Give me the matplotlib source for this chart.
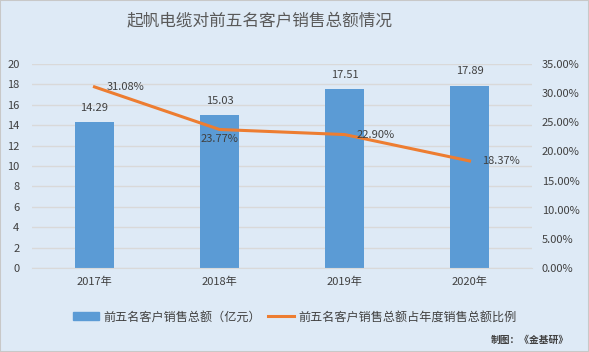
import matplotlib.pyplot as plt
from matplotlib.patches import Rectangle
from matplotlib.lines import Line2D
from matplotlib.ticker import FuncFormatter
import numpy as np

plt.rcParams['font.family'] = ['Noto Sans CJK SC', 'DejaVu Sans']

years = ['2017年', '2018年', '2019年', '2020年']
sales = [14.29, 15.03, 17.51, 17.89]
ratio = [31.08, 23.77, 22.90, 18.37]

bg = '#DEEAF6'
bar_color = '#5B9BD5'
line_color = '#ED7D31'
text_color = '#404040'

fig = plt.figure(figsize=(5.89, 3.52), dpi=100, facecolor=bg)
fig.patches.append(Rectangle((0, 0), 1, 1, transform=fig.transFigure,
                             fill=False, edgecolor='#C8C8C8', linewidth=1.5))

ax = fig.add_axes([0.0543, 0.2386, 0.849, 0.5795])
ax.set_facecolor(bg)
x = np.arange(len(years))
bars = ax.bar(x, sales, width=0.31, color=bar_color, zorder=2)
ax.set_ylim(0, 20)
ax.set_yticks(range(0, 21, 2))
ax.set_xlim(-0.5, 3.5)
ax.set_xticks(x)
ax.set_xticklabels(years)
ax.grid(axis='y', color='#D9D9D9', linewidth=1, zorder=0)
for s in ax.spines.values():
    s.set_visible(False)
ax.spines['bottom'].set_visible(True)
ax.spines['bottom'].set_color('#D9D9D9')
ax.tick_params(axis='both', length=0, labelsize=8, colors=text_color, pad=6)
ax.tick_params(axis='y', pad=9)

for xi, v in zip(x, sales):
    ax.text(xi, v + 0.9, '%.2f' % v, ha='center', va='bottom', fontsize=8, color=text_color)

ax2 = ax.twinx()
ax2.plot(x, ratio, color=line_color, linewidth=2.2, zorder=3)
ax2.set_ylim(0, 35)
ax2.set_yticks(np.arange(0, 36, 5))
ax2.yaxis.set_major_formatter(FuncFormatter(lambda v, p: '%.2f%%' % v))
for s in ax2.spines.values():
    s.set_visible(False)
ax2.tick_params(axis='y', length=0, labelsize=8, colors=text_color, pad=7)

offsets = [(8.5, 0, 'left', 'center'), (0, -3, 'center', 'top'),
           (9, 0, 'left', 'center'), (9, 0, 'left', 'center')]
for xi, v, (dx, dy, ha, va) in zip(x, ratio, offsets):
    ax2.annotate('%.2f%%' % v, (xi, v), xytext=(dx, dy), textcoords='offset points',
                 ha=ha, va=va, fontsize=8, color=text_color)

fig.text(0.441, 0.9375, '起帆电缆对前五名客户销售总额情况', ha='center', va='center',
         fontsize=12, color='#595959')

handles = [Rectangle((0, 0), 1, 1, color=bar_color),
           Line2D([0], [0], color=line_color, linewidth=2.2)]
fig.legend(handles, ['前五名客户销售总额（亿元）', '前五名客户销售总额占年度销售总额比例'],
           loc='center', bbox_to_anchor=(0.5, 0.1), ncol=2, frameon=False,
           fontsize=8.7, labelcolor=text_color, handlelength=2.2, handletextpad=0.3,
           columnspacing=0.6)

fig.text(0.965, 0.035, '制图：《金基研》', ha='right', va='center', fontsize=7,
         fontweight='bold', color='#404040')

fig.savefig('out.png', dpi=100, facecolor=bg)
